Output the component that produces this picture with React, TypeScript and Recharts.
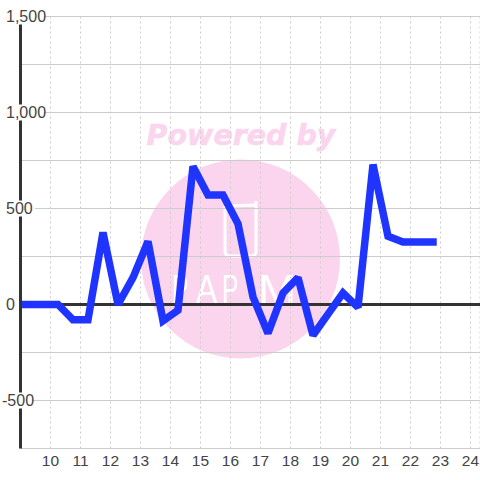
import React from "react";
import { LineChart, Line, XAxis, YAxis, CartesianGrid, ReferenceLine } from "recharts";

const hours = [9, 9.75, 10.25, 10.75, 11.25, 11.75, 12.25, 12.75, 13.25, 13.75, 14.25, 14.75, 15.25, 15.75, 16.25, 16.75, 17.25, 17.75, 18.25, 18.75, 19.25, 19.75, 20.25, 20.75, 21.25, 21.75, 22.25, 22.75];
const values = [0, 0, 0, -80, -80, 375, 0, 140, 328, -85, -30, 719, 570, 570, 420, 40, -150, 60, 140, -160, -50, 60, -15, 729, 355, 325, 325, 325];
const xTicks = [10, 11, 12, 13, 14, 15, 16, 17, 18, 19, 20, 21, 22, 23, 24];
const yTicks = [-750, -500, -250, 0, 250, 500, 750, 1000, 1250, 1500];
const data = hours.map((h, i) => ({ h, v: values[i] }));

const FONT = "'Liberation Sans', Arial, sans-serif";

function YTick(props: any) {
  const { y, payload } = props;
  const v = payload.value as number;
  if (v % 500 !== 0) return <g />;
  const label = v.toLocaleString("en-US");
  const w = label.length === 5 ? 38 : label.length === 4 ? 30 : label.length === 3 ? 29 : 10;
  const left = v < 0 ? 2 : 6;
  return (
    <g>
      <rect x={left} y={y - 8} width={w} height={16} fill="#fff" />
      <text x={left} y={y + 5.5} fontSize={16} fontFamily={FONT} fill="#444">{label}</text>
    </g>
  );
}

function XTick(props: any) {
  const { x, payload } = props;
  return (
    <text x={x} y={466} textAnchor="middle" fontSize={15.5} fontFamily={FONT} fill="#444">{payload.value}</text>
  );
}

const markLetters = ["P", "A", "P", "M"];
const markX = [172, 196, 222, 258];
const markScale = [0.6, 0.78, 0.6, 1.12];

function Watermark() {
  return (
    <svg width={480} height={480} style={{ position: "absolute", left: 0, top: 0 }}>
      <circle cx={240.5} cy={259} r={99.5} fill="#fbd5ee" />
      <text x={241} y={145} textAnchor="middle" fontSize={28.5} fontWeight="bold" fontStyle="italic" fontFamily="'DejaVu Sans', sans-serif" fill="#fbd5ee" stroke="#fbd5ee" strokeWidth={0.6}>Powered by</text>
      <path d="M 225 206 L 225 251 Q 225 256 230 256 L 251 256 Q 256 256 256 251 L 256 201" fill="none" stroke="#fff" strokeWidth={3} />
      <path d="M 225 206 L 256 205" fill="none" stroke="#fff" strokeWidth={3} />
      {markLetters.map((l, i) => (
        <text key={i} transform={`translate(${markX[i]},303) scale(${markScale[i]},1)`} fontSize={41} fontFamily={FONT} fill="#fff">{l}</text>
      ))}
    </svg>
  );
}

export default function App() {
  return (
    <div style={{ position: "fixed", left: 0, top: 0, width: 480, height: 480, background: "#fff" }}>
      <Watermark />
      <div style={{ position: "absolute", left: 0, top: 0 }}>
        <LineChart width={480} height={480} data={data} margin={{ top: 16.5, right: 0, bottom: 0, left: 0 }}>
          <CartesianGrid vertical={false} stroke="#ccc" strokeWidth={1} />
          <CartesianGrid horizontal={false} stroke="#ccc" strokeWidth={1} strokeDasharray="2 3" />
          <XAxis dataKey="h" type="number" domain={[9, 24.317]} ticks={xTicks} tick={<XTick />} tickLine={false} axisLine={{ stroke: "#ccc", strokeWidth: 1 }} height={31.5} interval={0} allowDataOverflow />
          <YAxis type="number" domain={[-750, 1500]} ticks={yTicks} tick={<YTick />} tickLine={false} axisLine={{ stroke: "#333", strokeWidth: 3 }} width={20.5} interval={0} />
          <ReferenceLine y={0} stroke="#333" strokeWidth={3} />
          <Line dataKey="v" type="linear" stroke="#1f35ff" strokeWidth={7.5} dot={false} isAnimationActive={false} strokeLinejoin="miter" strokeMiterlimit={2} strokeLinecap="square" />
        </LineChart>
      </div>
    </div>
  );
}
